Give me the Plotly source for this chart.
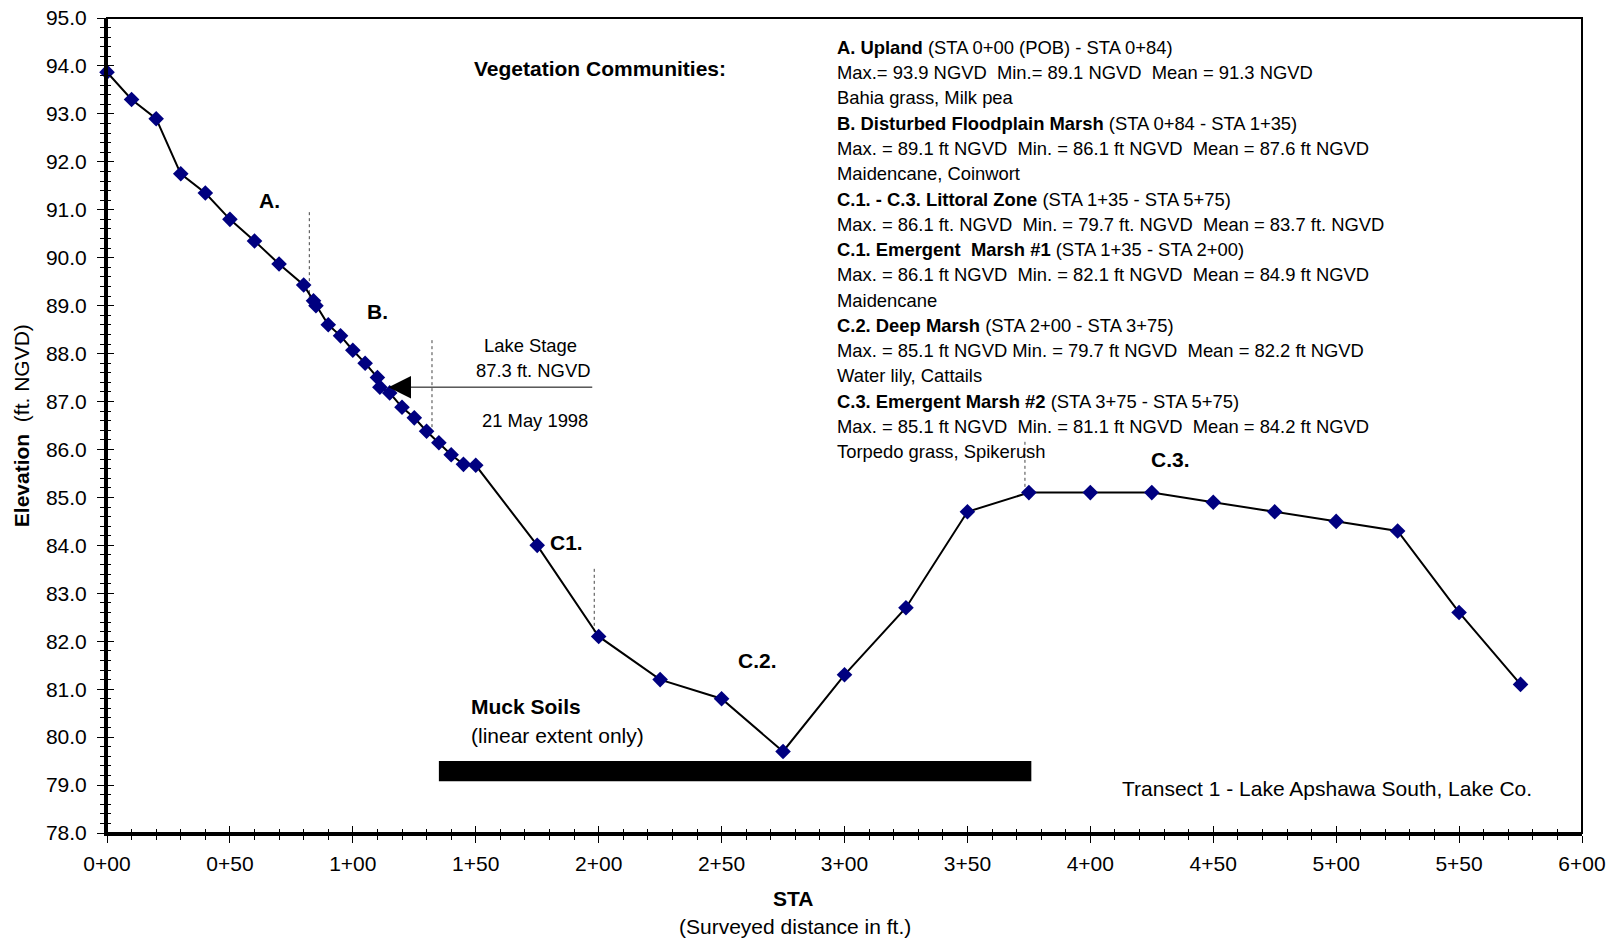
import plotly.graph_objects as go

# ---------------- data ----------------
sta = [0, 10, 20, 30, 40, 50, 60, 70, 80, 84, 85, 90, 95, 100, 105, 110, 111, 115,
       120, 125, 130, 135, 140, 145, 150, 175, 200, 225, 250, 275, 300, 325, 350,
       375, 400, 425, 450, 475, 500, 525, 550, 575]
elev = [93.87, 93.3, 92.9, 91.75, 91.35, 90.8, 90.35, 89.87, 89.43, 89.1, 89.0, 88.6,
        88.37, 88.07, 87.8, 87.5, 87.3, 87.18, 86.88, 86.66, 86.38, 86.14, 85.89,
        85.69, 85.67, 84.0, 82.1, 81.2, 80.8, 79.7, 81.3, 82.7, 84.7, 85.1, 85.1,
        85.1, 84.9, 84.7, 84.5, 84.3, 82.6, 81.1]

x_tickvals = [0, 50, 100, 150, 200, 250, 300, 350, 400, 450, 500, 550, 600]
x_ticktext = ["0+00", "0+50", "1+00", "1+50", "2+00", "2+50", "3+00", "3+50",
              "4+00", "4+50", "5+00", "5+50", "6+00"]

# zone boundary dotted markers
boundary_x = [82.3, 132.2, 198.2, 373.4]
boundary_top = [90.95, 88.28, 83.51, 86.16]
boundary_bottom = [89.15, 86.35, 82.15, 85.15]

# lake stage arrow
lake_stage = 87.3
arrow_tip_x = 114.5
arrow_tail_x = 198.0

# muck soils extent
muck_x = [135, 376]
muck_y = [79.08, 79.5]

zone_labels = ["A.", "B.", "C1.", "C.2.", "C.3."]
zone_label_x = [66.1, 110.2, 187.1, 264.6, 432.6]
zone_label_y = [91.20, 88.87, 84.05, 81.59, 85.79]

veg_lines = [
    "<b>A. Upland</b> (STA 0+00 (POB) - STA 0+84)",
    "Max.= 93.9 NGVD\u00a0\u00a0Min.= 89.1 NGVD\u00a0\u00a0Mean = 91.3 NGVD",
    "Bahia grass, Milk pea",
    "<b>B. Disturbed Floodplain Marsh</b> (STA 0+84 - STA 1+35)",
    "Max. = 89.1 ft NGVD\u00a0\u00a0Min. = 86.1 ft NGVD\u00a0\u00a0Mean = 87.6 ft NGVD",
    "Maidencane, Coinwort",
    "<b>C.1. - C.3. Littoral Zone</b> (STA 1+35 - STA 5+75)",
    "Max. = 86.1 ft. NGVD\u00a0\u00a0Min. = 79.7 ft. NGVD\u00a0\u00a0Mean = 83.7 ft. NGVD",
    "<b>C.1. Emergent\u00a0\u00a0Marsh #1</b> (STA 1+35 - STA 2+00)",
    "Max. = 86.1 ft NGVD\u00a0\u00a0Min. = 82.1 ft NGVD\u00a0\u00a0Mean = 84.9 ft NGVD",
    "Maidencane",
    "<b>C.2. Deep Marsh</b> (STA 2+00 - STA 3+75)",
    "Max. = 85.1 ft NGVD Min. = 79.7 ft NGVD\u00a0\u00a0Mean = 82.2 ft NGVD",
    "Water lily, Cattails",
    "<b>C.3. Emergent Marsh #2</b> (STA 3+75 - STA 5+75)",
    "Max. = 85.1 ft NGVD\u00a0\u00a0Min. = 81.1 ft NGVD\u00a0\u00a0Mean = 84.2 ft NGVD",
    "Torpedo grass, Spikerush",
]

# ---------------- figure ----------------
FONT = "Liberation Sans, Arial, Helvetica, sans-serif"
W, H = 1617, 941
ML, MR, MT, MB = 107, 35, 18, 108

fig = go.Figure()

# boundary dotted lines
for bx, bt, bb in zip(boundary_x, boundary_top, boundary_bottom):
    fig.add_trace(go.Scatter(x=[bx, bx], y=[bt, bb], mode="lines",
                             line=dict(color="#444444", width=1, dash="dot"),
                             hoverinfo="skip", showlegend=False))

# main profile
fig.add_trace(go.Scatter(x=sta, y=elev, mode="lines+markers",
                         line=dict(color="black", width=2),
                         marker=dict(symbol="diamond", size=12, color="#000080"),
                         cliponaxis=False, showlegend=False))

# empty trace for the overlay axes (inside ticks)
fig.add_trace(go.Scatter(x=[], y=[], xaxis="x2", yaxis="y2", showlegend=False))

# muck soils bar
fig.add_shape(type="rect", xref="x", yref="y", x0=muck_x[0], x1=muck_x[1],
              y0=muck_y[0], y1=muck_y[1], fillcolor="black", line=dict(width=0))

# frame
fig.add_shape(type="rect", xref="paper", yref="paper", x0=0, x1=1, y0=0, y1=1,
              line=dict(color="black", width=2), layer="above")

ann = []
# lake stage arrow
ann.append(dict(x=arrow_tip_x, y=lake_stage, ax=arrow_tail_x, ay=lake_stage,
                xref="x", yref="y", axref="x", ayref="y", text="", showarrow=True,
                arrowhead=2, arrowsize=4.5, arrowwidth=1, arrowcolor="black"))
ann.append(dict(x=172.1, y=88.17, xref="x", yref="y", text="Lake Stage",
                showarrow=False, font=dict(size=18.4)))
ann.append(dict(x=173.1, y=87.65, xref="x", yref="y", text="87.3 ft. NGVD",
                showarrow=False, font=dict(size=18.4)))
ann.append(dict(x=174.2, y=86.61, xref="x", yref="y", text="21 May 1998",
                showarrow=False, font=dict(size=18.4)))

# zone labels
for t, zx, zy in zip(zone_labels, zone_label_x, zone_label_y):
    ann.append(dict(x=zx, y=zy, xref="x", yref="y", text="<b>%s</b>" % t,
                    showarrow=False, font=dict(size=21)))

# muck text
ann.append(dict(x=147.1, y=80.63, xref="x", yref="y", text="<b>Muck Soils</b>",
                xanchor="left", showarrow=False, font=dict(size=21)))
ann.append(dict(x=147.1, y=80.04, xref="x", yref="y", text="(linear extent only)",
                xanchor="left", showarrow=False, font=dict(size=21)))

# transect title
ann.append(dict(x=580.4, y=78.93, xref="x", yref="y",
                text="Transect 1 - Lake Apshawa South, Lake Co.",
                xanchor="right", showarrow=False, font=dict(size=21)))

# vegetation header
ann.append(dict(x=148.4, y=93.94, xref="x", yref="y",
                text="<b>Vegetation Communities:</b>", xanchor="left",
                showarrow=False, font=dict(size=21)))

# vegetation text block
veg_left_px = 835.3 - ML
for i, line in enumerate(veg_lines):
    ypix = 47.4 + i * 25.27 - MT
    ann.append(dict(x=veg_left_px / (W - ML - MR), y=1, xref="paper", yref="paper",
                    yshift=-ypix, xanchor="left", yanchor="middle", text=line,
                    showarrow=False, font=dict(size=18.4)))

# axis titles
ann.append(dict(x=0, y=0.5, xref="paper", yref="paper", xshift=21.7 - ML,
                xanchor="center", yanchor="middle",
                text="<b>Elevation</b>\u00a0\u00a0(ft. NGVD)", textangle=-90,
                showarrow=False, font=dict(size=21)))
ann.append(dict(x=(793 - ML) / (W - ML - MR), y=0, xref="paper", yref="paper",
                yshift=-(898.3 - (H - MB)), xanchor="center", yanchor="middle",
                text="<b>STA</b>", showarrow=False, font=dict(size=21)))
ann.append(dict(x=(795 - ML) / (W - ML - MR), y=0, xref="paper", yref="paper",
                yshift=-(926.7 - (H - MB)), xanchor="center", yanchor="middle",
                text="(Surveyed distance in ft.)",
                showarrow=False, font=dict(size=21)))

common_x = dict(range=[0, 600], tickmode="array", tickvals=x_tickvals,
                showgrid=False, zeroline=False, tickcolor="black", tickwidth=1.3,
                ticklen=7, automargin=False,
                minor=dict(tickmode="linear", tick0=0, dtick=10, ticklen=4,
                           tickcolor="black", tickwidth=1, showgrid=False))
common_y = dict(range=[78, 95], tickmode="linear", tick0=78, dtick=1,
                showgrid=False, zeroline=False, tickcolor="black", tickwidth=1.3,
                ticklen=7, automargin=False,
                minor=dict(tickmode="linear", tick0=78, dtick=0.2, ticklen=4,
                           tickcolor="black", tickwidth=1, showgrid=False))

xaxis = dict(common_x)
xaxis.update(ticktext=x_ticktext, ticks="outside", showline=True, linewidth=3,
             linecolor="black", tickfont=dict(size=21, color="black"),
             ticklabelstandoff=3)
xaxis["minor"] = dict(common_x["minor"], ticks="outside")
yaxis = dict(common_y)
yaxis.update(ticks="outside", showline=True, linewidth=3, linecolor="black",
             tickformat=".1f", tickfont=dict(size=21, color="black"),
             ticklabelstandoff=6)
yaxis["minor"] = dict(common_y["minor"], ticks="outside")

xaxis2 = dict(common_x)
xaxis2.update(overlaying="x", anchor="y", side="bottom", ticks="inside",
              showticklabels=False, showline=False)
xaxis2["minor"] = dict(common_x["minor"], ticks="inside")
yaxis2 = dict(common_y)
yaxis2.update(overlaying="y", anchor="x", side="left", ticks="inside",
              showticklabels=False, showline=False)
yaxis2["minor"] = dict(common_y["minor"], ticks="inside")

fig.update_layout(
    width=W, height=H,
    margin=dict(l=ML, r=MR, t=MT, b=MB, pad=0, autoexpand=False),
    paper_bgcolor="white", plot_bgcolor="white",
    font=dict(family=FONT, size=18, color="black"),
    xaxis=xaxis, yaxis=yaxis, xaxis2=xaxis2, yaxis2=yaxis2,
    annotations=ann, showlegend=False,
)

fig.write_html(
    "out.html",
    config={"displayModeBar": False},
    post_script="document.body.style.margin='0';"
                "document.body.style.overflow='hidden';"
                "document.documentElement.style.overflow='hidden';",
)
